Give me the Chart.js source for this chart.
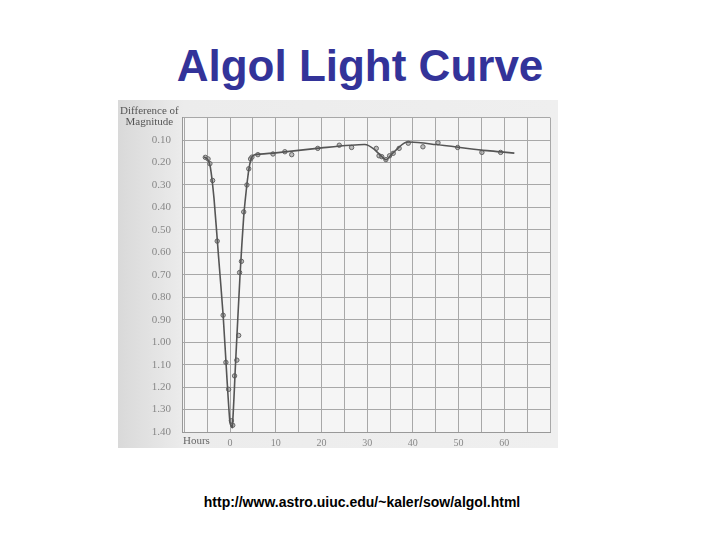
<!DOCTYPE html>
<html>
<head>
<meta charset="utf-8">
<script src="https://cdn.jsdelivr.net/npm/chart.js@4"></script>
<style>
  body { margin: 0; background: #fff; width: 720px; height: 540px; position: relative; overflow: hidden; }
  #title { position: absolute; left: 0; width: 720px; top: 41px; text-align: center;
           font: bold 44px "Liberation Sans", Arial, sans-serif; color: #333399; }
  #wrap { position: absolute; left: 118px; top: 100px; width: 440px; height: 360px; }
  #ylab { position: absolute; left: 120px; top: 105px; font: 11px "Liberation Serif", serif;
          color: #555; line-height: 11px; text-align: center; }
  #hours { position: absolute; left: 183px; top: 434px; font: 11px "Liberation Serif", serif; color: #666; }
  #url { position: absolute; left: 0; width: 724px; top: 494px; text-align: center;
         font: bold 14px "Liberation Sans", Arial, sans-serif; color: #000; }
</style>
</head>
<body>
<div id="title">Algol Light Curve</div>
<div id="wrap"><canvas id="lightCanvas" width="440" height="360"></canvas></div>
<div id="ylab">Difference of<br>Magnitude</div>
<div id="hours">Hours</div>
<div id="url">http://www.astro.uiuc.edu/~kaler/sow/algol.html</div>
<script>
// observed points (hours, magnitude difference)
const obsHours = [-5.4, -4.8, -4.4, -3.8, -2.8, -1.5, -0.9, -0.3, 0.3, 0.6, 1.0, 1.5, 1.9, 2.1, 2.5, 3.0, 3.7, 4.1, 4.5, 4.8,
                  6.1, 9.4, 12.0, 13.5, 19.2, 23.9, 26.6, 32.0, 32.6, 33.2, 34.1, 34.9, 35.7, 37.0, 39.0, 42.2, 45.5, 49.8, 55.1, 59.2];
const obsMag = [0.177, 0.184, 0.205, 0.28, 0.55, 0.88, 1.09, 1.21, 1.35, 1.37, 1.15, 1.08, 0.97, 0.69, 0.64, 0.42, 0.30, 0.228, 0.184, 0.176,
                0.165, 0.162, 0.152, 0.165, 0.137, 0.123, 0.133, 0.137, 0.17, 0.174, 0.187, 0.17, 0.159, 0.137, 0.114, 0.13, 0.112, 0.133, 0.155, 0.155];

// drawn curve
const curveHours = [-5.7, -4.9, -4.3, -3.5, -2.5, -1.5, -0.7, 0, 0.5, 1.2, 2.2, 3.0, 3.8, 4.3, 4.8, 5.5, 10, 20, 29.5, 31.5, 34.1, 35.5, 38.5, 45, 55, 62.2];
const curveMag = [0.175, 0.185, 0.22, 0.36, 0.62, 0.88, 1.15, 1.36, 1.38, 1.10, 0.70, 0.44, 0.28, 0.21, 0.175, 0.165, 0.157, 0.135, 0.12, 0.14, 0.188, 0.16, 0.11, 0.12, 0.145, 0.158];

const xTicks = [-10, -5, 0, 5, 10, 15, 20, 25, 30, 35, 40, 45, 50, 55, 60, 65, 70];
const xLabels = [0, 10, 20, 30, 40, 50, 60];
const yTicks = [0, 0.1, 0.2, 0.3, 0.4, 0.5, 0.6, 0.7, 0.8, 0.9, 1.0, 1.1, 1.2, 1.3, 1.4];

// scanned-paper look: grey sheet 348px tall, lighter grid area
const paperBg = {
  id: 'paperBg',
  beforeDraw(chart) {
    const c = chart.ctx, a = chart.chartArea;
    const g = c.createLinearGradient(0, 0, chart.width, 0);
    g.addColorStop(0, '#d9d9d9');
    g.addColorStop(0.15, '#ececec');
    g.addColorStop(1, '#efefef');
    c.save();
    c.fillStyle = g;
    c.fillRect(0, 0, chart.width, 348);
    c.fillStyle = '#f5f5f5';
    c.fillRect(a.left, a.top, a.right - a.left, a.bottom - a.top);
    c.restore();
  }
};

new Chart(document.getElementById('lightCanvas'), {
  type: 'scatter',
  data: {
    datasets: [{
      type: 'line',
      data: curveHours.map((h, i) => ({ x: h, y: curveMag[i] })),
      borderColor: '#555',
      borderWidth: 1.6,
      pointRadius: 0,
      tension: 0.2
    }, {
      data: obsHours.map((h, i) => ({ x: h, y: obsMag[i] })),
      backgroundColor: 'rgba(150,150,150,0.6)',
      borderColor: '#666',
      borderWidth: 1,
      pointRadius: 2.2
    }]
  },
  options: {
    responsive: false,
    animation: false,
    layout: { padding: { top: 5, right: 8, left: 0, bottom: 0 } },
    plugins: { legend: { display: false }, tooltip: { enabled: false } },
    scales: {
      x: {
        type: 'linear', min: -10.5, max: 70,
        afterBuildTicks: s => { s.ticks = xTicks.map(v => ({ value: v })); },
        afterFit: s => { s.height = 28; },
        grid: { color: '#a8a8a8', lineWidth: 1, drawTicks: false },
        border: { color: '#999' },
        ticks: {
          autoSkip: false, maxRotation: 0, padding: 5,
          color: '#888', font: { family: 'Liberation Serif', size: 10 },
          callback: v => xLabels.includes(v) ? String(v) : ''
        }
      },
      y: {
        type: 'linear', reverse: true, min: 0, max: 1.4,
        afterBuildTicks: s => { s.ticks = yTicks.map(v => ({ value: v })); },
        afterFit: s => { s.width = 64; },
        grid: { color: '#a8a8a8', lineWidth: 1, drawTicks: false },
        border: { color: '#999' },
        ticks: {
          autoSkip: false, padding: 11,
          color: '#888', font: { family: 'Liberation Serif', size: 11 },
          callback: v => v === 0 ? '' : v.toFixed(2)
        }
      }
    }
  },
  plugins: [paperBg]
});
</script>
</body>
</html>
